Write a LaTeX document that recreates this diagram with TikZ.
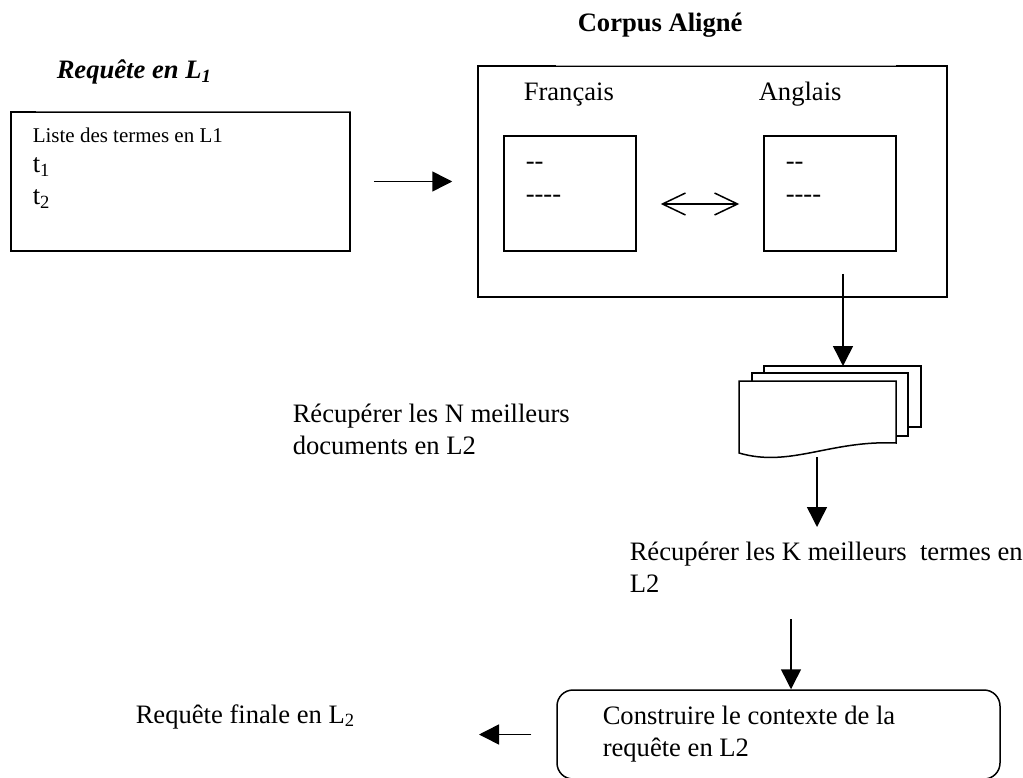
\documentclass[tikz,border=0pt]{standalone}
\usepackage{fontspec}
\setmainfont{Liberation Serif}
\usetikzlibrary{arrows.meta, positioning}

\begin{document}
\begin{tikzpicture}[x=1pt, y=-1pt, line width=1.5pt,
    bigtxt/.style={font=\fontsize{26.6}{32}\selectfont, inner sep=0pt},
    smalltxt/.style={font=\fontsize{21}{26}\selectfont, inner sep=0pt},
    boxed/.style={draw, fill=white, inner sep=0pt},
    arr/.style={-{Triangle[length=20pt, width=20pt]}},
    pairarr/.style={{Straight Barb[length=23pt, width=22pt]}-{Straight Barb[length=23pt, width=22pt]}}]
    \useasboundingbox (0,0) rectangle (1023,778);

    % query in L1
    \node[bigtxt, anchor=base west, font=\fontsize{26.6}{31}\selectfont\bfseries\itshape] (qtitle) at (56,79) {Requête en L\textsubscript{1}};
    \node[boxed, minimum width=339pt, minimum height=139pt] (qbox) at (180.5,181.5) {};
    \draw[white, line width=2.2pt] ([xshift=26pt]qbox.north west) -- (qbox.north east);
    \draw[black!60, line width=0.8pt] ([xshift=26pt]qbox.north west) -- (qbox.north east);
    \node[smalltxt, anchor=base west] (lst) at (32,143) {Liste des termes en L1};
    \node[bigtxt, anchor=base west] (tone) at (32,173) {t\textsubscript{1}};
    \node[bigtxt, anchor=base west] (ttwo) at (32,205) {t\textsubscript{2}};

    % aligned corpus
    \node[bigtxt, anchor=base west, font=\fontsize{26.6}{31}\selectfont\bfseries] (ctitle) at (577,32) {Corpus Aligné};
    \node[boxed, minimum width=469pt, minimum height=231pt] (corpus) at (712.5,181.5) {};
    \draw[white, line width=2.2pt] ([xshift=79pt]corpus.north west) -- ([xshift=-52pt]corpus.north east);
    \draw[black!35, line width=0.8pt] ([xshift=79pt]corpus.north west) -- ([xshift=-52pt]corpus.north east);
    \node[bigtxt, anchor=base west] (fr) at (523,101) {Français};
    \node[bigtxt, anchor=base west] (en) at (758,101) {Anglais};
    \node[boxed, minimum width=132pt, minimum height=115pt] (frbox) at (570,193.5) {};
    \node[boxed, minimum width=132pt, minimum height=115pt] (enbox) at (830,193.5) {};
    \node[bigtxt, anchor=base west] (frone) at (525,170) {-{}-};
    \node[bigtxt, anchor=base west] (frtwo) at (525,203) {-{}-{}-{}-};
    \node[bigtxt, anchor=base west] (enone) at (785,170) {-{}-};
    \node[bigtxt, anchor=base west] (entwo) at (785,203) {-{}-{}-{}-};
    \draw[pairarr] ([xshift=24pt, yshift=-10.5pt]frbox.east) -- ([xshift=-24pt, yshift=-10.5pt]enbox.west);

    \draw[arr] ([xshift=23pt]qbox.east) -- ([xshift=-25pt]corpus.west);

    % stack of documents
    \coordinate (docin) at (843,366);
    \coordinate (docout) at (817,457);
    \draw[fill=white] (764,366) rectangle (921,427);
    \draw[fill=white] (752,373) rectangle (908,436);
    \draw[fill=white] (739,381) -- (896,381) -- (896,443) .. controls (830,440) and (790,468) .. (739,453) -- cycle;
    \draw[arr] ([xshift=130.5pt, yshift=24pt]corpus.south) -- (docin);
    % base anchor of a two-line node sits on its last line
    \node[bigtxt, anchor=base west, align=left] (ndocs) at (292,454) {Récupérer les N meilleurs\\documents en L2};

    % best terms
    \coordinate (kin) at (817,527);
    \draw[arr] (docout) -- (kin);
    \node[bigtxt, anchor=base west, align=left] (kterms) at (629,592) {Récupérer les K meilleurs\ \ termes en\\L2};

    % context and final query
    \coordinate (kout) at (791,619);
    \node[boxed, rounded corners=16pt, minimum width=443pt, minimum height=89pt] (ctx) at (778.5,734.5) {};
    \node[bigtxt, anchor=base west, align=left] (ctxtxt) at (602,756) {Construire le contexte de la\\requête en L2};
    \draw[arr] (kout) -- (kout |- ctx.north);
    \coordinate (fin) at (479,734.5);
    \draw[arr] ([xshift=-25pt]ctx.west) -- (fin);
    \node[bigtxt, anchor=base west] (final) at (135,723) {Requête finale en L\textsubscript{2}};
\end{tikzpicture}
\end{document}
